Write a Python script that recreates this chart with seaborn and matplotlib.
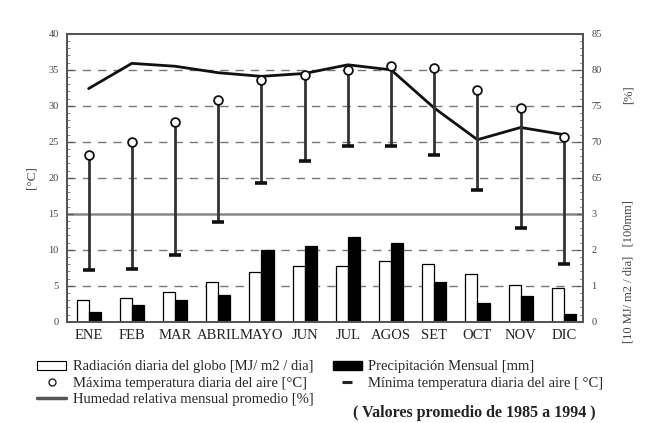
import numpy as np
import pandas as pd
import matplotlib
matplotlib.use("Agg")
import matplotlib.pyplot as plt
from matplotlib.lines import Line2D
from matplotlib.patches import Patch
from matplotlib.ticker import MultipleLocator
import seaborn as sns

# valores (promedios 1985-1994)
meses = ["ENE", "FEB", "MAR", "ABRIL", "MAYO", "JUN", "JUL", "AGOS", "SET", "OCT", "NOV", "DIC"]
t_max = [23.2, 25.0, 27.7, 30.8, 33.6, 34.3, 35.0, 35.5, 35.2, 32.2, 29.7, 25.7]   # [°C]
t_min = [7.2, 7.3, 9.3, 13.9, 19.3, 22.3, 24.4, 24.4, 23.2, 18.3, 13.1, 8.1]        # [°C]
humedad = [77.4, 80.9, 80.5, 79.6, 79.1, 79.5, 80.7, 80.0, 74.7, 70.3, 72.0, 71.0]  # [%]
radiacion = [0.61, 0.66, 0.82, 1.10, 1.38, 1.54, 1.54, 1.70, 1.61, 1.34, 1.02, 0.94]  # [10 MJ/m2/dia]
precip = [0.28, 0.48, 0.61, 0.76, 2.00, 2.12, 2.36, 2.20, 1.12, 0.52, 0.73, 0.22]     # [100 mm]

ticks_izq = [0, 5, 10, 15, 20, 25, 30, 35, 40]
ticks_hum = [65, 70, 75, 80, 85]
ticks_bar = [0, 1, 2, 3]

sns.set_theme(style="white")
plt.rcParams["font.family"] = ["Liberation Serif", "DejaVu Serif"]

x = np.arange(len(meses))
df_bar = pd.DataFrame({
    "mes": meses * 2,
    "valor": radiacion + precip,
    "serie": ["rad"] * 12 + ["pre"] * 12,
})

fig = plt.figure(figsize=(6.51, 4.23), dpi=100)
ax = fig.add_axes([0.103, 0.239, 0.793, 0.681])
ax_b = ax.twinx()
ax_h = ax.twinx()
ax_t = ax.twinx()

gris = "#444444"

# lineas guia
for v in [5, 10, 20, 25, 30, 35]:
    ax.axhline(v, color="#777777", lw=1.0, ls=(0, (6, 5)), zorder=0)
ax.axhline(15, color="#888888", lw=1.8, zorder=0)

# barras: radiacion y precipitacion
sns.barplot(data=df_bar, x="mes", y="valor", hue="serie", order=meses,
            palette={"rad": "white", "pre": "black"}, width=0.56,
            edgecolor="black", linewidth=0.9, ax=ax_b, legend=False)
ax_b.set_ylim(0, 8)
ax_b.set_yticks(ticks_bar)
ax_b.yaxis.set_minor_locator(MultipleLocator(0.2))
ax_b.set_ylabel("")
ax_b.set_xlabel("")

# humedad relativa
sns.lineplot(x=x, y=humedad, color="#111111", lw=2.0, ax=ax_h)
ax_h.set_ylim(45, 85)
ax_h.set_yticks(ticks_hum)
ax_h.yaxis.set_minor_locator(MultipleLocator(1))

# temperaturas
ax_t.vlines(x, t_min, t_max, color="#333333", lw=2.0, zorder=2)
sns.scatterplot(x=x, y=t_min, marker="_", s=80, linewidth=2.6, color="#111111", ax=ax_t, zorder=3)
sns.scatterplot(x=x, y=t_max, marker="o", s=40, facecolor="white", edgecolor="#111111",
                linewidth=1.3, ax=ax_t, zorder=4)
ax_t.set_ylim(0, 40)
ax_t.yaxis.set_visible(False)

ax.set_ylim(0, 40)
ax.set_yticks(ticks_izq)
ax.yaxis.set_minor_locator(MultipleLocator(1))
ax.set_xlim(-0.5, 11.45)
ax.set_xticks(x, meses)
ax.set_ylabel("[°C]", fontsize=9.5, color=gris, labelpad=8)

for a in (ax, ax_b, ax_h):
    a.tick_params(axis="y", which="major", direction="in", length=4, width=0.8,
                  labelsize=7.5, labelcolor=gris, color="#555555", pad=6)
    a.tick_params(axis="y", which="minor", direction="in", length=2, width=0.6, color="#777777")
ax.tick_params(axis="x", direction="in", length=2, labelsize=10.5, labelcolor="#222222", pad=5)
for a in (ax, ax_b, ax_h, ax_t):
    for s in a.spines.values():
        s.set_color("#555555")
        s.set_linewidth(1.1)

fig.text(0.965, 0.775, "[%]", rotation=90, ha="center", va="center", fontsize=9, color=gris)
fig.text(0.965, 0.357, "[10 MJ/ m2 / dia]   [100mm]", rotation=90, ha="center", va="center",
         fontsize=9, color=gris)

# leyenda
handles = [
    Patch(facecolor="white", edgecolor="black", lw=0.8),
    Line2D([], [], ls="none", marker="o", ms=5, mfc="white", mec="#222222", mew=1),
    Line2D([], [], color="#555555", lw=2.5),
    Patch(facecolor="black", edgecolor="black"),
    Line2D([], [], ls="none", marker="_", ms=7, mew=2.2, color="#222222"),
]
labels = [
    "Radiación diaria del globo [MJ/ m2 / dia]",
    "Máxima temperatura diaria del aire [°C]",
    "Humedad relativa mensual promedio [%]",
    "Precipitación Mensual [mm]",
    "Mínima temperatura diaria del aire [ °C]",
]
fig.legend(handles, labels, ncol=2, loc="upper left", bbox_to_anchor=(0.046, 0.165),
           frameon=False, fontsize=10.5, handlelength=2.0, handleheight=0.6,
           labelspacing=0.22, columnspacing=1.3, handletextpad=0.45, borderpad=0)
fig.text(0.542, 0.024, "( Valores promedio de 1985 a 1994 )", fontsize=11.5, weight="bold",
         color="#222222", va="center")

fig.savefig("out.png", dpi=100, facecolor="white")
